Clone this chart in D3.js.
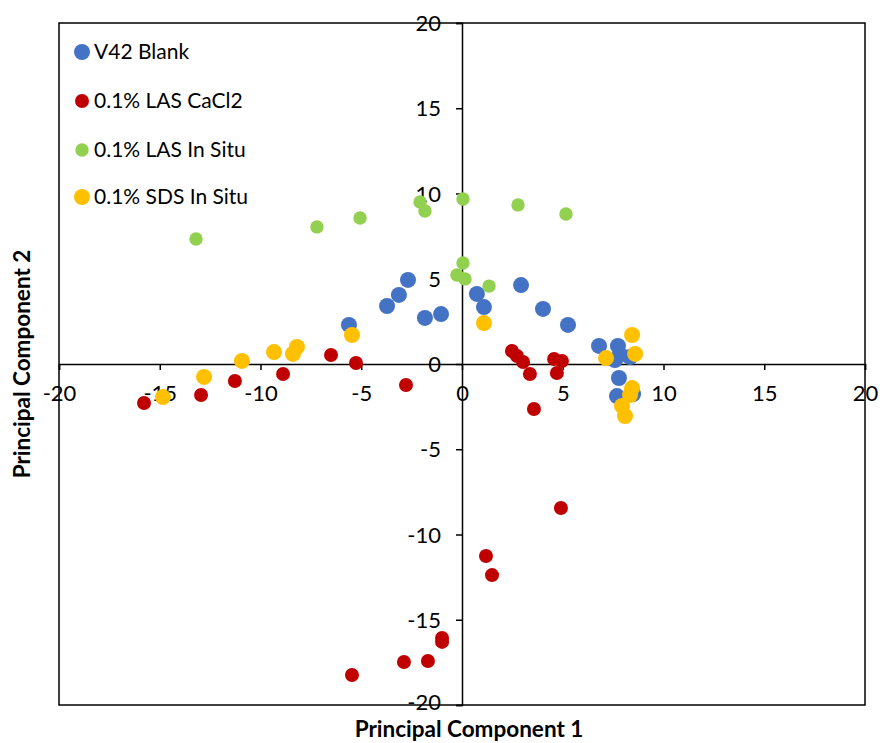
<!DOCTYPE html>
<html><head><meta charset="utf-8">
<script src="https://cdn.jsdelivr.net/npm/d3@7"></script>
<style>body{margin:0;background:#fff;} text{font-family:Lato,"Open Sans",sans-serif;}</style>
</head><body><svg id="c" width="880" height="743"></svg>
<script>
const seriesNames = ["V42 Blank","0.1% LAS CaCl2","0.1% LAS In Situ","0.1% SDS In Situ"];
const seriesColors = ["#4472C4","#C00000","#92D050","#FFC000"];
const blankX = [-5.61,-3.72,-3.13,-2.68,-1.84,-1.04,0.74,1.09,2.93,4.02,5.26,6.80,7.74,7.59,8.34,7.84,7.79,7.69,8.49];
const blankY = [2.29,3.40,4.05,4.93,2.70,2.93,4.11,3.34,4.63,3.23,2.29,1.06,1.06,0.23,0.41,0.53,-0.82,-1.88,-1.76];
const lasCaX = [-15.78,-12.95,-11.27,-8.88,-6.50,-5.26,-2.78,2.48,2.73,3.03,3.37,3.57,4.57,4.96,4.71,4.91,1.19,1.49,-0.99,-0.99,-2.88,-1.69,-5.46];
const lasCaY = [-2.29,-1.82,-1.00,-0.59,0.53,0.06,-1.23,0.76,0.47,0.12,-0.59,-2.64,0.29,0.18,-0.53,-8.45,-11.26,-12.38,-16.07,-16.30,-17.48,-17.42,-18.24];
const lasInX = [-13.20,-7.20,-5.06,-2.08,-1.84,0.05,2.78,5.16,0.05,-0.25,0.15,1.34];
const lasInY = [7.33,8.04,8.56,9.50,8.97,9.68,9.33,8.80,5.92,5.22,4.99,4.57];
const sdsX = [-14.84,-12.80,-10.92,-9.33,-8.39,-8.19,-5.46,1.09,7.15,8.44,8.59,8.44,8.34,7.94,8.09];
const sdsY = [-1.94,-0.76,0.18,0.70,0.59,1.00,1.70,2.40,0.35,1.70,0.59,-1.41,-1.82,-2.46,-3.05];
const tickVals = [-20,-15,-10,-5,0,5,10,15,20];

const seriesX = [blankX,lasCaX,lasInX,sdsX];
const seriesY = [blankY,lasCaY,lasInY,sdsY];
const radii = [8,7,6.7,8];

const svg = d3.select("#c");
const L=59,R=865,T=23,B=705;
const x = d3.scaleLinear().domain([-20,20]).range([L,R]);
const y = d3.scaleLinear().domain([-20,20]).range([B,T]);

svg.append("rect").attr("x",L).attr("y",T).attr("width",R-L).attr("height",B-T)
  .attr("fill","none").attr("stroke","#000").attr("stroke-width",1.5);

const xAxis = svg.append("g").attr("transform",`translate(0,${y(0)})`)
  .call(d3.axisBottom(x).tickValues(tickVals).tickSize(6).tickFormat(d=>d));
xAxis.select(".domain").attr("stroke","#000").attr("stroke-width",1.5);
xAxis.selectAll(".tick line").attr("stroke","#000").attr("stroke-width",1.5);
xAxis.selectAll(".tick text").attr("font-size",22).attr("fill","#000").attr("dy",null).attr("y",37)
  .style("font-family","Lato, 'Open Sans', sans-serif");

const yAxis = svg.append("g").attr("transform",`translate(${x(0)},0)`)
  .call(d3.axisLeft(y).tickValues(tickVals).tickSize(6).tickFormat(d=>d));
yAxis.select(".domain").attr("stroke","#000").attr("stroke-width",1.5);
yAxis.selectAll(".tick line").attr("stroke","#000").attr("stroke-width",1.5);
yAxis.selectAll(".tick text").attr("font-size",22).attr("fill","#000").attr("x",-21)
  .attr("dy",d=>d===-20?"0.2em":"0.35em")
  .style("font-family","Lato, 'Open Sans', sans-serif");

seriesNames.forEach((n,i)=>{
  const pts = seriesX[i].map((v,j)=>[v,seriesY[i][j]]);
  svg.append("g").selectAll("circle").data(pts).join("circle")
    .attr("cx",d=>x(d[0])).attr("cy",d=>y(d[1])).attr("r",radii[i]).attr("fill",seriesColors[i]);
});

const legY=[52,101,150,197];
seriesNames.forEach((n,i)=>{
  svg.append("circle").attr("cx",82).attr("cy",legY[i]).attr("r",radii[i]).attr("fill",seriesColors[i]);
  svg.append("text").attr("x",94).attr("y",legY[i]).attr("dy","0.35em").attr("font-size",21).attr("fill","#000").text(n);
});

svg.append("text").attr("x",469).attr("y",737).attr("text-anchor","middle").attr("font-size",22.5)
  .attr("font-weight","bold").attr("fill","#000").text("Principal Component 1");
svg.append("text").attr("transform","translate(30,364) rotate(-90)").attr("text-anchor","middle").attr("font-size",22.5)
  .attr("font-weight","bold").attr("fill","#000").text("Principal Component 2");
</script></body></html>
